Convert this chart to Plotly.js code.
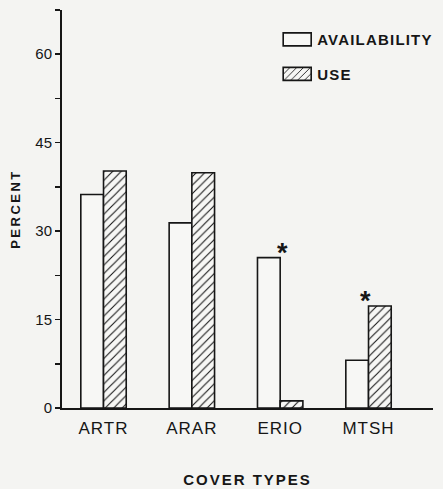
<!DOCTYPE html>
<html><head><meta charset="utf-8">
<script src="https://cdn.plot.ly/plotly-3.0.1.min.js"></script>
<style>
body{margin:0;background:#f4f4f2}
#chart{width:443px;height:489px}
.legendtext{letter-spacing:1.2px}
.xtitle{letter-spacing:2px}
.ytitle{letter-spacing:2.5px}
.xtick text{letter-spacing:1px}
</style></head><body><div id="chart"></div>
<script>
const categories = ['ARTR', 'ARAR', 'ERIO', 'MTSH'];
const availability = [36.2, 31.4, 25.5, 8.1];
const use = [40.2, 39.9, 1.2, 17.3];
const yTickVals = [0, 15, 30, 45, 60];
const yTickText = ['0', '15', '30', '45', '60'];
// significant differences marked with an asterisk
const starCategory = ['ERIO', 'MTSH'];
const starSeries = ['availability', 'use'];

const ink = '#161616';
const paper = '#f4f4f2';
const fill = '#f7f7f5';

const traces = [
  {
    type: 'bar', name: 'AVAILABILITY', x: categories, y: availability,
    legendgroup: 'a',
    marker: {color: fill, line: {color: ink, width: 1.6}},
    hoverinfo: 'x+y'
  },
  {
    type: 'bar', name: 'USE', x: categories, y: use,
    legendgroup: 'b',
    marker: {color: fill, line: {color: ink, width: 1.6},
      pattern: {shape: '/', fgcolor: ink, bgcolor: fill, size: 6, solidity: 0.18, fillmode: 'replace'}},
    hoverinfo: 'x+y'
  }
];

const seriesValues = {availability: availability, use: use};
const annotations = starCategory.map((c, i) => {
  const idx = categories.indexOf(c);
  const v = seriesValues[starSeries[i]][idx];
  return {
    x: c, y: v, xref: 'x', yref: 'y', text: '*', showarrow: false,
    xanchor: 'center', yanchor: 'middle',
    xshift: starSeries[i] === 'availability' ? 2 : -3,
    yshift: 5,
    font: {family: 'Liberation Sans, Arial, sans-serif', size: 27, weight: 'bold', color: ink}
  };
});

const layout = {
  width: 443, height: 489,
  margin: {l: 62, r: 5, t: 10, b: 81},
  paper_bgcolor: paper, plot_bgcolor: paper,
  font: {family: 'Liberation Sans, Arial, sans-serif', color: ink},
  barmode: 'group', bargap: 0.486, bargroupgap: 0,
  showlegend: true,
  legend: {
    x: 0.58, xanchor: 'left', y: 0.967, yanchor: 'top',
    bgcolor: 'rgba(0,0,0,0)', borderwidth: 0,
    font: {size: 15, weight: 'bold', color: ink},
    tracegroupgap: 12, itemclick: false, itemdoubleclick: false
  },
  xaxis: {
    range: [-0.47, 3.73], showgrid: false, zeroline: false,
    showline: true, linecolor: ink, linewidth: 2,
    ticks: '', tickfont: {size: 17, color: ink},
    ticklabelstandoff: 4,
    title: {text: 'COVER TYPES', font: {size: 15, weight: 'bold', color: ink}, standoff: 37},
    fixedrange: true
  },
  yaxis: {
    range: [0, 67.5], showgrid: false, zeroline: false,
    showline: true, linecolor: ink, linewidth: 2,
    tickmode: 'array', tickvals: yTickVals, ticktext: yTickText,
    ticks: 'outside', ticklen: 5, tickwidth: 1.5, tickcolor: ink,
    minor: {dtick: 7.5, tick0: 7.5, ticks: 'outside', ticklen: 5, tickwidth: 1.5, tickcolor: ink, showgrid: false},
    tickfont: {size: 15, color: ink},
    title: {text: 'PERCENT', font: {size: 13, weight: 'bold', color: ink}, standoff: 12},
    fixedrange: true
  },
  annotations: annotations
};

Plotly.newPlot('chart', traces, layout, {displayModeBar: false, staticPlot: true}).then(gd => {
  gd.querySelectorAll('.legend .legendpoints path').forEach(p => {
    p.setAttribute('d', 'M14,6.5H-14V-6.5H14Z');
  });
});
</script></body></html>
